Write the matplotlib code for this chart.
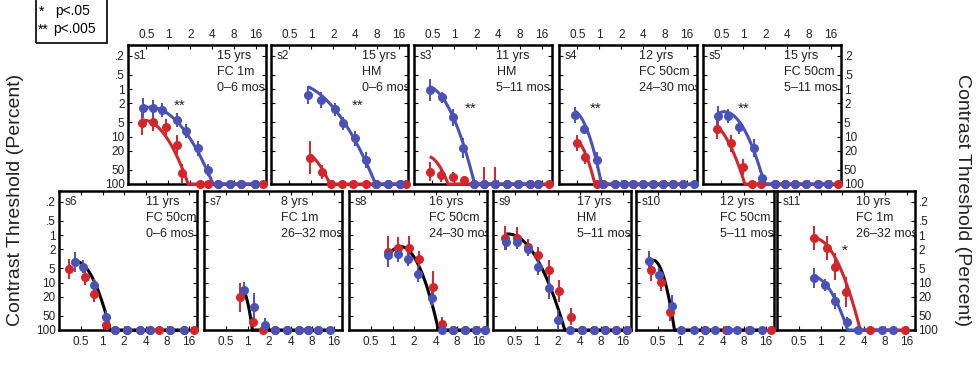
import numpy as np
import matplotlib
matplotlib.use("Agg")
import matplotlib.pyplot as plt
from matplotlib.patches import Rectangle

plt.rcParams['font.family'] = ['Liberation Sans', 'DejaVu Sans']

BLUE = '#4a52b5'
RED = '#d3262b'
BLACK = '#000000'

# ---------------- data (spatial frequency, contrast threshold %, error in log10 units) ----------------
s1_blue_f = [0.45, 0.62, 0.83, 1.32, 1.74, 2.58, 3.55, 4.8, 6.9, 10.0, 15.3]
s1_blue_t = [2.5, 2.5, 2.8, 4.5, 7.6, 17.8, 51, 100, 100, 100, 100]
s1_blue_e = [0.21, 0.17, 0.15, 0.15, 0.15, 0.15, 0.13, 0, 0, 0, 0]
s1_red_f = [0.44, 0.62, 0.92, 1.30, 1.52, 2.7, 3.5, 4.8, 6.9, 10.0, 15.3, 19.8]
s1_red_t = [5.3, 4.9, 6.4, 15, 60, 100, 100, 100, 100, 100, 100, 100]
s1_red_e = [0.25, 0.2, 0.17, 0.2, 0.2, 0, 0, 0, 0, 0, 0, 0]

s2_blue_f = [0.9, 1.35, 2.1, 2.72, 3.94, 5.57, 7.8, 11.2, 16.2]
s2_blue_t = [1.34, 1.71, 2.65, 5.3, 11, 31.4, 100, 100, 100]
s2_blue_e = [0.19, 0.17, 0.14, 0.14, 0.15, 0.17, 0, 0, 0]
s2_red_f = [0.97, 1.38, 1.87, 2.6, 3.75, 5.6, 7.8, 11.2, 16.2, 19.8]
s2_red_t = [28, 55, 100, 100, 100, 100, 100, 100, 100, 100]
s2_red_e = [0.35, 0.15, 0, 0, 0, 0, 0, 0, 0, 0]

s3_blue_f = [0.46, 0.68, 0.96, 1.32, 1.87, 2.56, 3.66, 5.2, 7.5, 10.8, 14.0]
s3_blue_t = [1.05, 1.5, 3.96, 17.8, 100, 100, 100, 100, 100, 100, 100]
s3_blue_e = [0.23, 0.12, 0.17, 0.21, 0, 0, 0, 0, 0, 0, 0]
s3_red_f = [0.46, 0.65, 0.96, 1.37, 1.87, 2.56, 3.66, 5.2, 7.5, 10.8, 14.0, 19.8]
s3_red_t = [55, 65, 70, 83, 100, 100, 100, 100, 100, 100, 100, 100]
s3_red_e = [0.2, 0.15, 0.1, 0.08, 0, 0.35, 0.35, 0, 0, 0, 0, 0]

s4_blue_f = [0.46, 0.61, 0.93, 1.13, 1.63, 2.2, 2.9, 3.96, 5.4, 7.5, 10.2, 14.0, 20.0]
s4_blue_t = [3.54, 7.1, 31.4, 100, 100, 100, 100, 100, 100, 100, 100, 100, 100]
s4_blue_e = [0.17, 0.1, 0.17, 0, 0, 0, 0, 0, 0, 0, 0, 0, 0]
s4_red_f = [0.5, 0.63, 0.92, 1.13, 1.63, 2.2, 2.9, 3.96, 5.4, 7.5, 10.2, 14.0]
s4_red_t = [13.5, 27, 100, 100, 100, 100, 100, 100, 100, 100, 100, 100]
s4_red_e = [0.17, 0.14, 0, 0, 0, 0, 0, 0, 0, 0, 0, 0]

s5_blue_f = [0.45, 0.62, 0.88, 1.39, 1.83, 2.7, 3.7, 5.1, 7.3, 10.6, 14.5]
s5_blue_t = [3.72, 3.7, 6.4, 17.8, 76, 100, 100, 100, 100, 100, 100]
s5_blue_e = [0.21, 0.14, 0.14, 0.19, 0.08, 0, 0, 0, 0, 0, 0]
s5_red_f = [0.43, 0.67, 0.99, 1.3, 1.77, 2.7, 3.7, 5.1, 7.3, 10.6, 14.5, 20.0]
s5_red_t = [7.1, 14, 43, 100, 100, 100, 100, 100, 100, 100, 100, 100]
s5_red_e = [0.21, 0.17, 0.17, 0, 0, 0, 0, 0, 0, 0, 0, 0]

s6_blue_f = [0.41, 0.54, 0.75, 1.11, 1.5, 2.19, 3.3, 4.65, 8.9, 13.6]
s6_blue_t = [3.74, 4.6, 11.3, 52, 100, 100, 100, 100, 100, 100]
s6_blue_e = [0.21, 0.14, 0.13, 0.14, 0, 0, 0, 0, 0, 0]
s6_red_f = [0.34, 0.56, 0.77, 1.11, 1.5, 2.19, 3.3, 4.65, 6.1, 8.9, 13.6, 18.8]
s6_red_t = [5.2, 7.5, 17.7, 79, 100, 100, 100, 100, 100, 100, 100, 100]
s6_red_e = [0.21, 0.17, 0.17, 0.05, 0, 0, 0, 0, 0, 0, 0, 0]

s7_blue_f = [0.88, 1.25, 1.73, 2.39, 3.55, 5.2, 7.1, 9.6, 14.3]
s7_blue_t = [14.4, 32, 79, 100, 100, 100, 100, 100, 100]
s7_blue_e = [0.17, 0.28, 0.15, 0, 0, 0, 0, 0, 0]
s7_red_f = [0.79, 1.21, 1.64, 2.39, 3.55, 5.2, 7.1, 9.6]
s7_red_t = [20.5, 67, 100, 100, 100, 100, 100, 100]
s7_red_e = [0.3, 0.1, 0, 0, 0, 0, 0, 0]

s8_blue_f = [0.86, 1.19, 1.64, 2.25, 3.55, 4.85, 7.1, 10.2, 14.7, 19.8]
s8_blue_t = [2.62, 2.55, 3.19, 6.6, 20.9, 100, 100, 100, 100, 100]
s8_blue_e = [0.19, 0.17, 0.15, 0.17, 0.17, 0, 0, 0, 0, 0]
s8_red_f = [0.86, 1.19, 1.71, 2.31, 3.63, 5.0, 7.1, 10.2, 14.7, 19.8]
s8_red_t = [2.23, 1.85, 1.85, 3.19, 12.2, 76, 100, 100, 100, 100]
s8_red_e = [0.32, 0.23, 0.25, 0.17, 0.32, 0.15, 0, 0, 0, 0]

s9_blue_f = [0.37, 0.53, 0.76, 1.04, 1.5, 1.98, 2.96, 4.3, 6.3, 9.1, 13.1, 18.4]
s9_blue_t = [1.37, 1.37, 1.96, 4.6, 13, 62, 100, 100, 100, 100, 100, 100]
s9_blue_e = [0.17, 0.15, 0.15, 0.17, 0.23, 0.21, 0, 0, 0, 0, 0, 0]
s9_red_f = [0.365, 0.53, 0.76, 1.04, 1.5, 2.08, 3.06, 4.3, 6.3, 9.1, 13.1, 18.4]
s9_red_t = [1.17, 1.17, 1.76, 2.62, 5.4, 15.1, 52, 100, 100, 100, 100, 100]
s9_red_e = [0.25, 0.23, 0.17, 0.17, 0.21, 0.23, 0.17, 0, 0, 0, 0, 0]

s10_blue_f = [0.37, 0.51, 0.79, 1.06, 1.62, 2.3, 3.1, 4.75, 6.3, 9.8, 14.4]
s10_blue_t = [3.6, 7.0, 30.8, 100, 100, 100, 100, 100, 100, 100, 100]
s10_blue_e = [0.23, 0.15, 0.23, 0.08, 0, 0, 0, 0, 0, 0, 0]
s10_red_f = [0.40, 0.55, 0.74, 2.24, 4.5, 9.5, 19.2]
s10_red_t = [5.4, 9.6, 41, 100, 100, 100, 100]
s10_red_e = [0.23, 0.19, 0.19, 0, 0, 0, 0]

s11_blue_f = [0.82, 1.14, 1.57, 2.33, 3.4, 7.2, 10.5]
s11_blue_t = [8.1, 11.2, 24.7, 67, 100, 100, 100]
s11_blue_e = [0.21, 0.13, 0.17, 0.1, 0, 0, 0]
s11_red_f = [0.80, 1.22, 1.57, 2.26, 4.96, 15.4]
s11_red_t = [1.17, 1.88, 4.6, 15.6, 100, 100]
s11_red_e = [0.25, 0.25, 0.28, 0.32, 0, 0]

# fitted truncated log-parabola parameters: (peak frequency, peak threshold %, cutoff frequency)
s1_blue_fit = (0.55, 2.4, 4.1)
s1_red_fit = (0.45, 4.5, 1.87)
s2_blue_fit = (0.55, 0.75, 7.6)
s2_red_fit = (0.7, 20, 1.8)
s3_blue_fit = (0.4, 0.85, 1.9)
s3_red_fit = (0.42, 26, 0.82)
s4_blue_fit = (0.42, 2.8, 1.07)
s4_red_fit = (0.42, 10.5, 0.87)
s5_blue_fit = (0.55, 3.0, 1.95)
s5_red_fit = (0.3, 4.5, 1.05)
s6_fit = (0.42, 3.6, 1.28)
s7_fit = (0.8, 12.5, 1.17)
s8_fit = (1.3, 1.75, 4.4)
s9_fit = (0.4, 0.95, 2.49)
s10_fit = (0.43, 3.4, 0.85)
s11_blue_fit = (0.75, 7.3, 2.4)
s11_red_fit = (0.8, 1.15, 3.6)

subject_names = ['s1', 's2', 's3', 's4', 's5', 's6', 's7', 's8', 's9', 's10', 's11']
subject_info = ['15 yrs\nFC 1m\n0–6 mos', '15 yrs\nHM\n0–6 mos', '11 yrs\nHM\n5–11 mos',
                '12 yrs\nFC 50cm\n24–30 mos', '15 yrs\nFC 50cm\n5–11 mos', '11 yrs\nFC 50cm\n0–6 mos',
                '8 yrs\nFC 1m\n26–32 mos', '16 yrs\nFC 50cm\n24–30 mos', '17 yrs\nHM\n5–11 mos',
                '12 yrs\nFC 50cm\n5–11 mos', '10 yrs\nFC 1m\n26–32 mos']
# significance marks: (text, frequency, threshold)
sig_marks = {'s1': ('**', 1.44, 2.3), 's2': ('**', 4.33, 2.3), 's3': ('**', 1.68, 2.65),
             's4': ('**', 0.9, 2.55), 's5': ('**', 1.02, 2.65), 's11': ('*', 2.17, 2.1)}

x_ticks = [0.5, 1, 2, 4, 8, 16]
x_ticklabels = ['0.5', '1', '2', '4', '8', '16']
y_ticks = [0.2, 0.5, 1, 2, 5, 10, 20, 50, 100]
y_ticklabels = ['.2', '.5', '1', '2', '5', '10', '20', '50', '100']

panels = {
    's1': [(s1_red_f, s1_red_t, s1_red_e, s1_red_fit, RED), (s1_blue_f, s1_blue_t, s1_blue_e, s1_blue_fit, BLUE)],
    's2': [(s2_red_f, s2_red_t, s2_red_e, s2_red_fit, RED), (s2_blue_f, s2_blue_t, s2_blue_e, s2_blue_fit, BLUE)],
    's3': [(s3_red_f, s3_red_t, s3_red_e, s3_red_fit, RED), (s3_blue_f, s3_blue_t, s3_blue_e, s3_blue_fit, BLUE)],
    's4': [(s4_red_f, s4_red_t, s4_red_e, s4_red_fit, RED), (s4_blue_f, s4_blue_t, s4_blue_e, s4_blue_fit, BLUE)],
    's5': [(s5_red_f, s5_red_t, s5_red_e, s5_red_fit, RED), (s5_blue_f, s5_blue_t, s5_blue_e, s5_blue_fit, BLUE)],
    's6': [(s6_red_f, s6_red_t, s6_red_e, None, RED), (s6_blue_f, s6_blue_t, s6_blue_e, s6_fit, BLACK)],
    's7': [(s7_red_f, s7_red_t, s7_red_e, None, RED), (s7_blue_f, s7_blue_t, s7_blue_e, s7_fit, BLACK)],
    's8': [(s8_red_f, s8_red_t, s8_red_e, None, RED), (s8_blue_f, s8_blue_t, s8_blue_e, s8_fit, BLACK)],
    's9': [(s9_red_f, s9_red_t, s9_red_e, None, RED), (s9_blue_f, s9_blue_t, s9_blue_e, s9_fit, BLACK)],
    's10': [(s10_red_f, s10_red_t, s10_red_e, None, RED), (s10_blue_f, s10_blue_t, s10_blue_e, s10_fit, BLACK)],
    's11': [(s11_red_f, s11_red_t, s11_red_e, s11_red_fit, RED), (s11_blue_f, s11_blue_t, s11_blue_e, s11_blue_fit, BLUE)],
}

# ---------------- layout (pixels) ----------------
W, H = 976, 372
fig = plt.figure(figsize=(W / 100, H / 100), dpi=100)

top_lefts = [128, 271, 414, 559, 703]
bot_lefts = [59, 204, 349, 493, 636, 777]
info_x = [0.65, 0.66, 0.60, 0.58, 0.59, 0.63, 0.56, 0.58, 0.61, 0.61, 0.57]


def add_ax(left, top, width, height):
    return fig.add_axes([left / W, 1 - (top + height) / H, width / W, height / H])


def fit_curve(f0, f_end, params):
    fpk, tpk, fc = params
    f = np.geomspace(f0, fc, 200)
    u = np.log2(f / fpk) / np.log2(fc / fpk)
    t = tpk * 10 ** (np.log10(100 / tpk) * u ** 2)
    f = np.append(f, [fc, max(f_end, fc)])
    t = np.append(t, [100, 100])
    return f, t


for i, name in enumerate(subject_names):
    top_row = i < 5
    if top_row:
        ax = add_ax(top_lefts[i], 45, 137.5, 139)
        ax.set_xlim(0.28, 21.5)
    else:
        ax = add_ax(bot_lefts[i - 5], 191, 138, 139)
        ax.set_xlim(0.246, 21)
    ax.set_xscale('log', base=2)
    ax.set_yscale('log')
    ax.set_ylim(100, 0.118)
    ax.set_xticks(x_ticks)
    ax.set_xticklabels(x_ticklabels)
    ax.set_yticks(y_ticks)
    ax.set_yticklabels(y_ticklabels)
    ax.minorticks_off()
    ax.tick_params(axis='both', which='both', direction='in', length=3, width=0.8,
                   top=True, bottom=True, left=True, right=True, labelsize=8.5, pad=2.5,
                   labelcolor='#222222')
    if top_row:
        ax.tick_params(axis='x', labeltop=True, labelbottom=False, pad=3)
    else:
        ax.tick_params(axis='x', labeltop=False, labelbottom=True, pad=4)
    ax.tick_params(axis='y', labelleft=(i in (0, 5)), labelright=(i in (4, 10)))
    for sp in ax.spines.values():
        sp.set_linewidth(1.8)

    for f, t, e, fit, col in panels[name]:
        f = np.asarray(f, float)
        t = np.asarray(t, float)
        e = np.asarray(e, float)
        if fit is not None:
            cf, ct = fit_curve(f[0], f[-1], fit)
            ax.plot(cf, ct, color=col, lw=2.2, zorder=3, clip_on=False,
                    solid_capstyle='butt')
        dcol = RED if col == RED else BLUE
        m = e > 0
        ax.vlines(f[m], t[m] / 10 ** e[m], t[m] * 10 ** e[m], color=dcol, lw=1.4, zorder=4)
        ax.plot(f, t, 'o', ms=5.5, color=dcol, mec=dcol, zorder=5, clip_on=False, ls='none')

    ax.text(0.04, 0.965, name, transform=ax.transAxes, ha='left', va='top', fontsize=8.5,
            color='#222222')
    ax.text(info_x[i], 0.965, subject_info[i], transform=ax.transAxes, ha='left', va='top',
            fontsize=9, linespacing=1.45, clip_on=True, color='#222222')
    if name in sig_marks:
        s, sf, st = sig_marks[name]
        ax.text(sf, st, s, ha='center', va='center', fontsize=11, color='#222222')

# y labels
fig.text(16 / W, 1 - 200 / H, 'Contrast Threshold (Percent)', rotation=90,
         ha='center', va='center', fontsize=14, color='#222222')
fig.text(963 / W, 1 - 200 / H, 'Contrast Threshold (Percent)', rotation=270,
         ha='center', va='center', fontsize=14, color='#222222')

# significance legend box
fig.patches.append(Rectangle((36 / W, 1 - 43 / H), 71 / W, 46 / H, transform=fig.transFigure,
                             fill=False, lw=1.2, ec='black'))
fig.text(39 / W, 1 - 12 / H, '*', ha='left', va='center', fontsize=10)
fig.text(55 / W, 1 - 11 / H, 'p<.05', ha='left', va='center', fontsize=10)
fig.text(38 / W, 1 - 30 / H, '**', ha='left', va='center', fontsize=10)
fig.text(53 / W, 1 - 29 / H, 'p<.005', ha='left', va='center', fontsize=10)

fig.savefig('out.png', dpi=100)
